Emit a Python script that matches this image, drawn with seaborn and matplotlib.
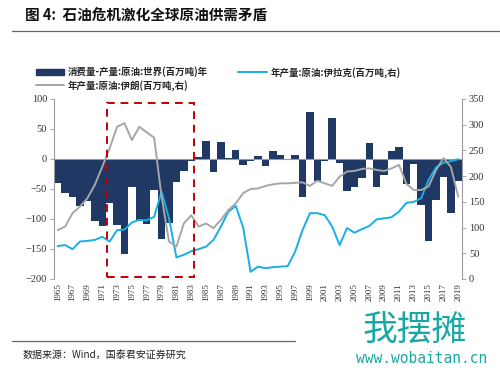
import numpy as np
import pandas as pd
import matplotlib
matplotlib.use("Agg")
import matplotlib.pyplot as plt
import seaborn as sns
from matplotlib.patches import Rectangle, Patch
from matplotlib.lines import Line2D

years = list(range(1965, 2020))

# 消费量-产量:原油:世界(百万吨) 年
gap = [-40, -57, -64, -79, -70, -104, -112, -73, -110, -158,
       -47, -104, -108, -52, -133, -107, -38, -20, -4, 3,
       30, -22, 28, 2, 15, -10, -3, 5, -11, 13,
       7, -2, 7, -63, 78, -36, -3, 68, -6, -54,
       -46, -31, 27, -46, -26, 13, 20, -41, -8, -76,
       -137, -69, -30, -90, -36]

# 年产量:原油:伊拉克(百万吨,右)
iraq = [64, 66, 58, 73, 74, 76, 82, 73, 95, 96,
        110, 115, 114, 121, 170, 118, 42, 47, 54, 58,
        63, 76, 102, 131, 142, 100, 14, 24, 21, 23,
        24, 25, 53, 95, 128, 128, 124, 102, 66, 99,
        90, 97, 103, 116, 118, 120, 131, 148, 150, 157,
        193, 217, 226, 229, 233]

# 年产量:原油:伊朗(百万吨,右)
iran = [95, 102, 128, 141, 157, 183, 218, 254, 296, 303,
        270, 296, 285, 275, 160, 73, 63, 108, 124, 102,
        108, 99, 115, 134, 147, 167, 175, 176, 181, 184,
        186, 186, 187, 188, 181, 191, 186, 181, 199, 209,
        210, 214, 215, 212, 210, 215, 222, 185, 173, 173,
        180, 212, 235, 218, 160]

df = pd.DataFrame({"year": years, "gap": gap, "iraq": iraq, "iran": iran})
df["pos"] = df["year"] - years[0]

navy = "#1f3864"
cyan = "#1aaee6"
grey = "#a6a6a6"
red = "#c00000"

sns.set_style("white")
plt.rcParams["font.family"] = ["Noto Sans CJK SC", "DejaVu Sans"]

fig = plt.figure(figsize=(5, 3.75), dpi=100)
ax = fig.add_axes([0.108, 0.256, 0.816, 0.48])
ax2 = ax.twinx()

sns.barplot(data=df, x="pos", y="gap", color=navy, width=1.0, linewidth=0,
            saturation=1, ax=ax, zorder=2)
ax.axhline(0, color="#999999", lw=0.8, zorder=3)

sns.lineplot(data=df, x="pos", y="iraq", color=cyan, lw=1.4, ax=ax2, zorder=4)
sns.lineplot(data=df, x="pos", y="iran", color=grey, lw=1.4, ax=ax2, zorder=4)

ax.set_ylim(-200, 100)
ax.set_yticks([-200, -150, -100, -50, 0, 50, 100])
ax2.set_ylim(0, 350)
ax2.set_yticks(range(0, 351, 50))
ax.set_xlim(-0.5, len(years) - 0.5)
ax.set_xticks(range(0, len(years), 2))
ax.set_xticklabels([str(y) for y in years[::2]], rotation=90,
                   family="Liberation Serif", fontsize=6.5, color="#333333")
ax.set_xlabel("")
ax.set_ylabel("")
ax2.set_ylabel("")

for a in (ax, ax2):
    for side in ("top", "bottom"):
        a.spines[side].set_visible(False)
    a.spines["left"].set_color("#999999")
    a.spines["right"].set_color("#999999")
    a.spines["left"].set_linewidth(0.8)
    a.spines["right"].set_linewidth(0.8)
    for lab in a.get_yticklabels():
        lab.set_family("Liberation Serif")
        lab.set_fontsize(7.5)
        lab.set_color("#333333")
ax.spines["right"].set_visible(False)
ax2.spines["left"].set_visible(False)
ax.tick_params(axis="y", length=3, width=0.6, color="#999999", pad=2, left=True)
ax2.tick_params(axis="y", length=3, width=0.6, color="#999999", pad=2, right=True)
ax.tick_params(axis="x", length=0, pad=3)

# 红色虚线框: 1972-1983
box = Rectangle((6.6, -196), 11.8, 289, fill=False, edgecolor=red,
                linestyle=(0, (4, 3)), lw=1.4, zorder=6, clip_on=False,
                transform=ax.transData)
ax2.add_artist(box)

handles = [Patch(color=navy), Line2D([], [], color=grey, lw=1.4),
           Line2D([], [], color=cyan, lw=1.4)]
labels = ["消费量-产量:原油:世界(百万吨)年", "年产量:原油:伊朗(百万吨,右)",
          "年产量:原油:伊拉克(百万吨,右)"]
fig.legend(handles, labels, ncol=2, loc="upper left", bbox_to_anchor=(0.055, 0.845),
           frameon=False, handlelength=3.0, handleheight=0.6,
           columnspacing=3.2, labelspacing=0.25, handletextpad=0.4,
           prop={"weight": "bold", "size": 6.8})

fig.text(0.05, 0.958, "图 4:  石油危机激化全球原油供需矛盾", fontsize=10.5,
         weight="bold", va="center", color="#111111")
fig.add_artist(Line2D([0.024, 1.0], [0.917, 0.917], color="#666666", lw=0.9))
fig.add_artist(Line2D([0.024, 0.59], [0.09, 0.09], color="#666666", lw=0.9))
fig.text(0.045, 0.053, "数据来源：Wind，国泰君安证券研究", fontsize=7.2,
         va="center", color="#222222")

# 水印
fig.text(0.725, 0.118, "我摆摊", fontsize=25, color="#1aa8a6", va="center")
fig.text(0.712, 0.043, "www.wobaitan.cn", fontsize=10.5, color="#1aa8a6",
         va="center", family="DejaVu Sans Mono")

fig.savefig("out.png", dpi=100)
